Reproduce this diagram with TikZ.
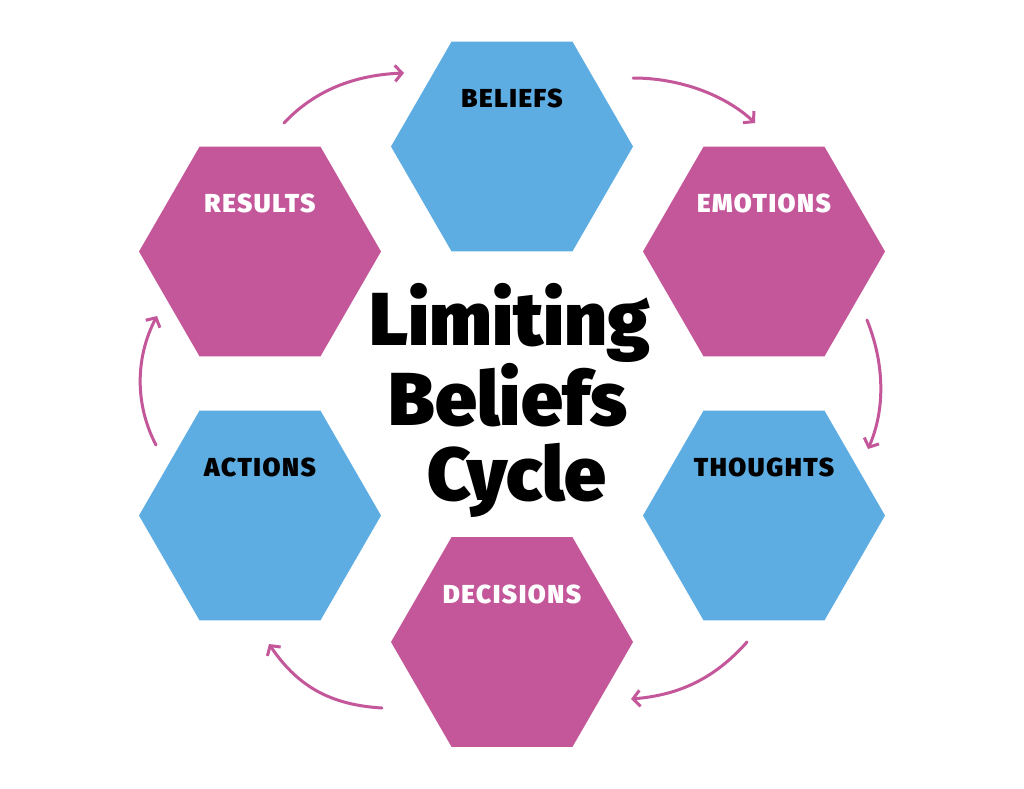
\documentclass[tikz,border=0pt]{standalone}
\usepackage{fontspec}
\newfontfamily\heavy{Fira Sans}[UprightFont=* Black]
\newfontfamily\heavyspaced{Fira Sans}[UprightFont=* Black, LetterSpace=6]
\usetikzlibrary{shapes.geometric,arrows.meta}
\definecolor{hexblue}{RGB}{93,173,226}
\definecolor{hexpink}{RGB}{196,87,154}
\tikzset{
  hexbox/.style={regular polygon, regular polygon sides=6, minimum size=242pt, inner sep=0pt, outer sep=0pt, draw=none},
  bluehex/.style={hexbox, fill=hexblue},
  pinkhex/.style={hexbox, fill=hexpink},
  hexlabel/.style={font=\heavyspaced\fontsize{26}{26}\selectfont, inner sep=0pt},
  titleline/.style={font=\heavy\fontsize{75}{75}\selectfont, inner sep=0pt, anchor=base},
  cyclearrow/.style={draw=hexpink, line width=3pt, line cap=round, -{Straight Barb[length=7pt,width=16pt,line width=3pt]}}
}
\begin{document}
\begin{tikzpicture}[x=1pt,y=-1pt]
\useasboundingbox (0,0) rectangle (1024,788);
\fill[white] (0,0) rectangle (1024,788);
% hexagons
\node[bluehex] (beliefs) at (512,146.5) {};
\node[pinkhex] (emotions) at (764,251.5) {};
\node[bluehex] (thoughts) at (764,515.5) {};
\node[pinkhex] (decisions) at (512,642) {};
\node[bluehex] (actions) at (260,515.5) {};
\node[pinkhex] (results) at (260,251.5) {};
% labels
\node[hexlabel, text=black] (lbeliefs) at (512,98) {BELIEFS};
\node[hexlabel, text=white] (lemotions) at (764,203) {EMOTIONS};
\node[hexlabel, text=black] (lthoughts) at (764,467) {THOUGHTS};
\node[hexlabel, text=white] (ldecisions) at (512,594) {DECISIONS};
\node[hexlabel, text=black] (lactions) at (260,467) {ACTIONS};
\node[hexlabel, text=white] (lresults) at (260,203) {RESULTS};
% title
\node[titleline] (t1) at (510,345) {Limiting};
\node[titleline] (t2) at (508,425) {Beliefs};
\node[titleline] (t3) at (517,500) {Cycle};
% arrow end points
\coordinate (a1s) at (284,123); \coordinate (a1e) at (404,73);
\coordinate (a2s) at (633,78);  \coordinate (a2e) at (755,123);
\coordinate (a3s) at (867,320); \coordinate (a3e) at (868,449);
\coordinate (a4s) at (747,642); \coordinate (a4e) at (631,699);
\coordinate (a5s) at (382,708); \coordinate (a5e) at (269,644);
\coordinate (a6s) at (156,445); \coordinate (a6e) at (157,316);
\draw[cyclearrow] (a1s) .. controls (315,90) and (355,75) .. (a1e);
\draw[cyclearrow] (a2s) .. controls (680,78) and (725,95) .. (a2e);
\draw[cyclearrow] (a3s) .. controls (885,365) and (885,410) .. (a3e);
\draw[cyclearrow] (a4s) .. controls (715,678) and (680,695) .. (a4e);
\draw[cyclearrow] (a5s) .. controls (335,705) and (300,690) .. (a5e);
\draw[cyclearrow] (a6s) .. controls (135,405) and (135,358) .. (a6e);
\end{tikzpicture}
\end{document}
